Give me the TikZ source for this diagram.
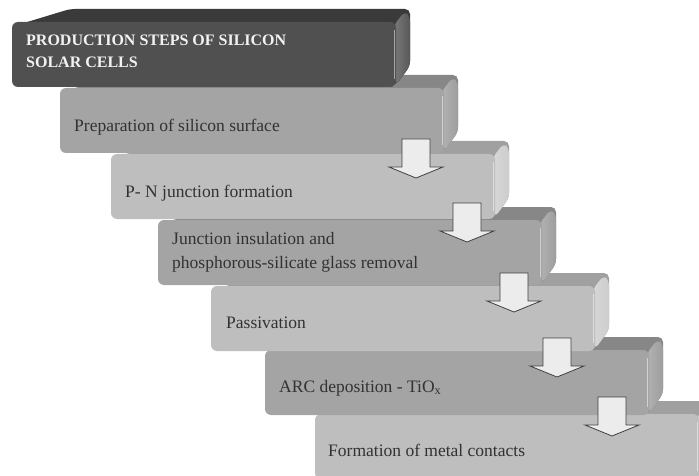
\documentclass[tikz,border=0pt]{standalone}
\usepackage{fontspec}
\setmainfont{Liberation Serif}
\usetikzlibrary{positioning,calc}
\definecolor{titleface}{RGB}{80,80,80}
\definecolor{titletop}{RGB}{58,58,58}
\definecolor{titleside}{RGB}{88,88,88}
\definecolor{midface}{RGB}{164,164,164}
\definecolor{midtop}{RGB}{135,135,135}
\definecolor{midside}{RGB}{158,158,158}
\definecolor{lightface}{RGB}{190,190,190}
\definecolor{lighttop}{RGB}{160,160,160}
\definecolor{lightside}{RGB}{205,205,205}
\definecolor{arrowfill}{RGB}{236,236,236}
\definecolor{steptextcolor}{RGB}{50,50,50}

\begin{document}
\begin{tikzpicture}[x=1pt, y=-1pt,
    every node/.style={inner sep=0pt, text=steptextcolor, font=\fontsize{17.5}{24}\selectfont},
    steptext/.style={anchor=base west, align=left},
    titletext/.style={anchor=base west, align=left, text=white!95!black, font=\fontsize{16}{22}\selectfont\bfseries},
    arrowline/.style={draw=black!75, fill=arrowfill, line width=0.8pt, line join=miter},
    blockarrow/.pic={\draw[arrowline] (-14,0) -- (14,0) -- (14,28) -- (27,28) -- (0,39) -- (-27,28) -- (-14,28) -- cycle;}]
  \useasboundingbox (0,0) rectangle (699,476);

  % Steps are drawn from the last one back to the title,
  % so that every box lies over the top face of the one below it
  \foreach \L/\T/\fc/\tc/\sc in {315/414/lightface/lighttop/lightside,
                                 265/350/midface/midtop/midside,
                                 211/286/lightface/lighttop/lightside,
                                 158/220/midface/midtop/midside,
                                 111/154/lightface/lighttop/lightside,
                                  60/88/midface/midtop/midside,
                                  12/22/titleface/titletop/titleside} {
    \pgfmathsetmacro{\R}{\L+384}
    % top face (and back of the block)
    \fill[\tc, rounded corners=5pt] (\L+2,\T+4) -- (\L+58,\T-13) -- (\R+14,\T-13)
      -- (\R+14,\T+44) -- (\R,\T+63) -- cycle;
    % side face
    \shade[left color=\sc!80!white, right color=\sc, rounded corners=5pt]
      (\R-2,\T+3) -- (\R+9,\T-11) -- (\R+14,\T-5) -- (\R+14,\T+44) -- (\R,\T+63) -- cycle;
    % front face
    \fill[\fc, rounded corners=6pt] (\L,\T) rectangle (\R,\T+65);
    \draw[white, opacity=0.5, line width=0.8pt] (\R-1.5,\T+8) -- (\R-1.5,\T+57);
  }

  % Labels (base of a two-line label is its last line)
  \node[titletext] (title) at (26,68) {PRODUCTION STEPS OF SILICON\\SOLAR CELLS};
  \node[steptext] (prep) at (74,132) {Preparation of silicon surface};
  \node[steptext] (pnjunc) at (125,197) {P- N junction formation};
  \node[steptext] (insul) at (172,268) {Junction insulation and\\phosphorous-silicate glass removal};
  \node[steptext] (passiv) at (226,328) {Passivation};
  \node[steptext] (arcdep) at (279,392) {ARC deposition - TiO\textsubscript{x}};
  \node[steptext] (metal) at (328,456) {Formation of metal contacts};

  % Block arrows between the steps
  \foreach \ax/\ay in {416/139, 467/203, 514/273, 557/338, 612/397}
    \pic at (\ax,\ay) {blockarrow};
\end{tikzpicture}
\end{document}
